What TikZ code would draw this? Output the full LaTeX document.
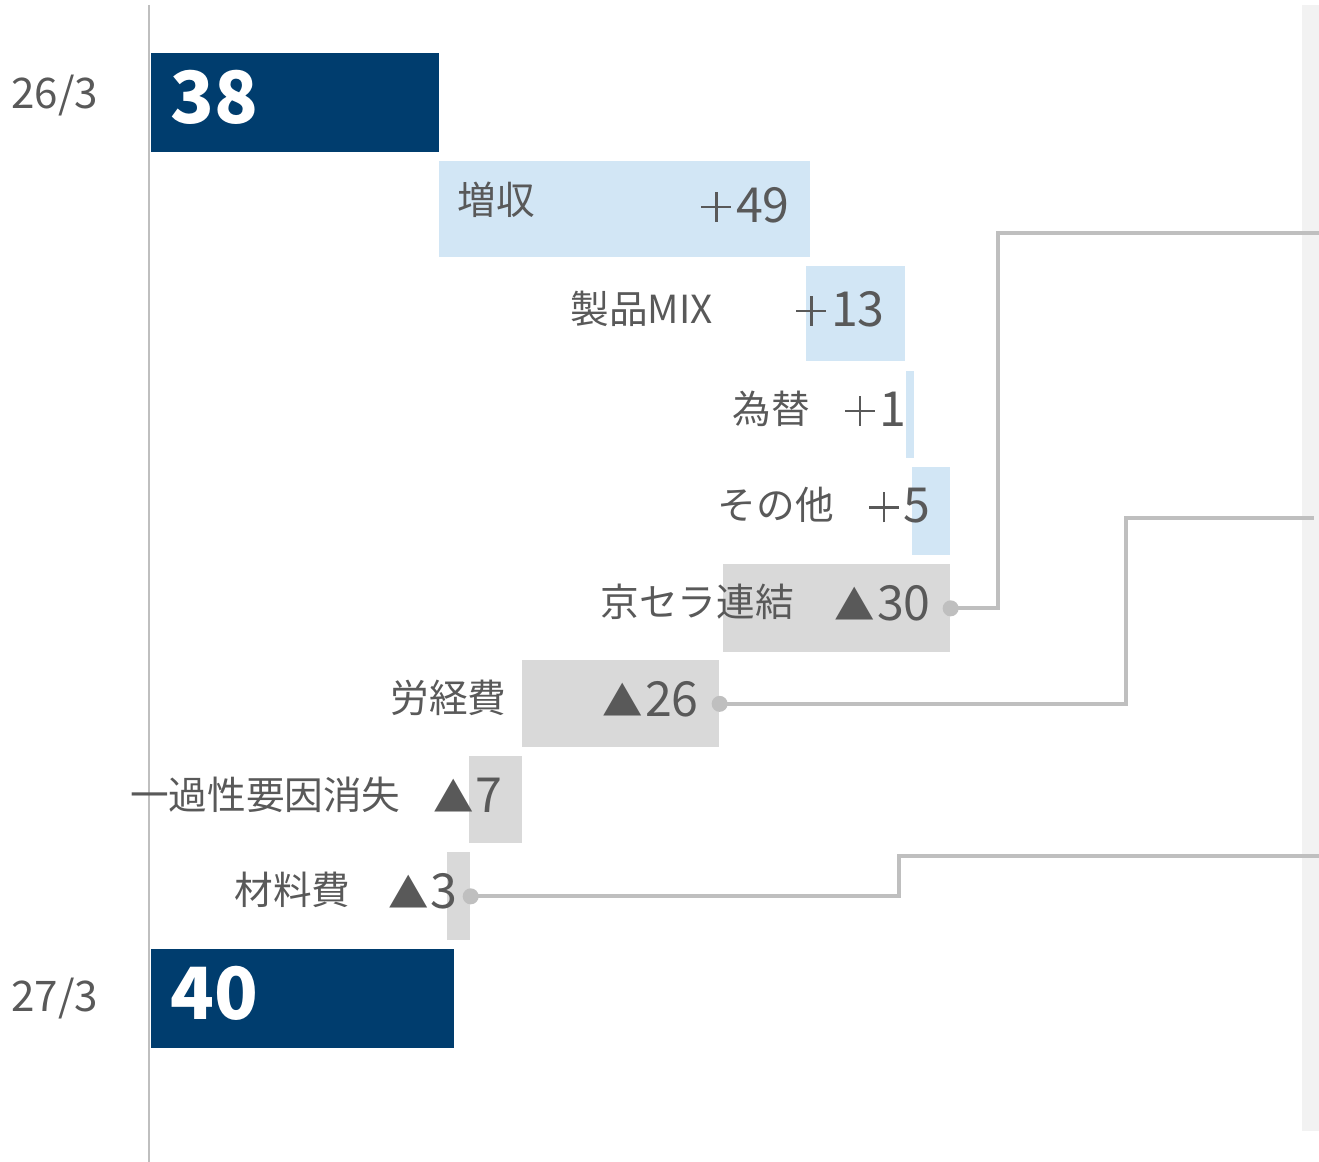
\documentclass[tikz,border=0pt]{standalone}
\usepackage{fontspec}
\setmainfont{Noto Sans CJK JP}
\usepackage{tikz}
\usetikzlibrary{calc}
\definecolor{navy}{HTML}{003D6E}
\definecolor{upblue}{HTML}{D2E6F5}
\definecolor{downgray}{HTML}{D9D9D9}
\definecolor{txtgray}{HTML}{595959}
\definecolor{linegray}{HTML}{BFBFBF}
\definecolor{stripgray}{HTML}{F2F2F2}
% thin, wide plus sign and smaller triangle as in the chart
\newcommand{\plussign}{\rlap{\rule[0.29em]{0.62em}{0.055em}}\kern0.2825em\rule[0.01em]{0.055em}{0.62em}\kern0.2825em\kern0.1em}
\newcommand{\minussign}{{\fontsize{23}{24}\selectfont ▲}\kern1pt}
\tikzset{
  totalbar/.style={fill=navy, draw=none, inner sep=0pt, anchor=north west},
  upbar/.style={fill=upblue, draw=none, inner sep=0pt, anchor=north west},
  downbar/.style={fill=downgray, draw=none, inner sep=0pt, anchor=north west},
  itemlabel/.style={text=txtgray, inner sep=0pt, anchor=east, font=\fontsize{22}{24}\selectfont},
  amount/.style={text=txtgray, inner sep=0pt, anchor=east, font=\fontsize{27.5}{30}\selectfont},
  totalnum/.style={text=white, inner sep=0pt, anchor=west, font=\fontsize{41}{44}\selectfont\bfseries},
  period/.style={text=txtgray, inner sep=0pt, anchor=west, font=\fontsize{24}{26}\selectfont},
  conn/.style={draw=linegray, line width=2.2pt},
  dot/.style={fill=linegray}
}

\begin{document}
\begin{tikzpicture}[x=0.02cm, y=-0.02cm]
  \useasboundingbox (0,0) rectangle (1319,1162);
  % right strip and axis
  \fill[stripgray] (1302,5) rectangle (1319,1131);
  \draw[linegray, line width=0.9pt] (149,5) -- (149,1162);

  % totals
  \node[totalbar, minimum width=5.76cm, minimum height=1.98cm] (start) at (151,53) {};
  \node[totalbar, minimum width=6.06cm, minimum height=1.98cm] (finish) at (151,949) {};
  \node[totalnum] (startval) at (170,97) {38};
  \node[totalnum] (finishval) at (170,993) {40};
  \node[period] (startlbl) at (11,96) {26/3};
  \node[period] (finishlbl) at (11,999) {27/3};

  % increases
  \node[upbar, minimum width=7.42cm, minimum height=1.92cm] (sales) at (439,161) {};
  \node[upbar, minimum width=1.98cm, minimum height=1.90cm] (mix) at (806,266) {};
  \node[upbar, minimum width=0.16cm, minimum height=1.74cm] (fx) at (906,371) {};
  \node[upbar, minimum width=0.76cm, minimum height=1.76cm] (other) at (912,467) {};

  % decreases
  \node[downbar, minimum width=4.54cm, minimum height=1.76cm] (kyocera) at (723,564) {};
  \node[downbar, minimum width=3.94cm, minimum height=1.74cm] (labour) at (522,660) {};
  \node[downbar, minimum width=1.06cm, minimum height=1.74cm] (oneoff) at (469,756) {};
  \node[downbar, minimum width=0.46cm, minimum height=1.76cm] (material) at (447,852) {};

  % labels
  \node[itemlabel, anchor=west] (saleslbl) at (457,200) {増収};
  \node[amount] (salesval) at (790,205) {\plussign 49};
  \node[itemlabel] (mixlbl) at (713,309) {製品MIX};
  \node[amount] (mixval) at (885,309) {\plussign 13};
  \node[itemlabel] (fxlbl) at (810,409) {為替};
  \node[amount] (fxval) at (907,409) {\plussign 1};
  \node[itemlabel] (otherlbl) at (834,505) {その他};
  \node[amount] (otherval) at (931,506) {\plussign 5};
  \node[itemlabel] (kyoceralbl) at (794,602) {京セラ連結};
  \node[amount] (kyoceraval) at (931,603) {\minussign 30};
  \node[itemlabel] (labourlbl) at (507,698) {労経費};
  \node[amount] (labourval) at (699,699) {\minussign 26};
  \node[itemlabel] (oneofflbl) at (401,795) {一過性要因消失};
  \node[amount] (oneoffval) at (503,795) {\minussign 7};
  \node[itemlabel] (materiallbl) at (351,890) {材料費};
  \node[amount] (materialval) at (458,891) {\minussign 3};

  % connectors
  \coordinate (c1) at (1319,233);
  \coordinate (c2) at (1314,518);
  \coordinate (c3) at (1319,856);
  \draw[conn] (kyocera.east) -- ++(47,0) |- (c1);
  \draw[conn] (labour.east) -- ++(406,0) |- (c2);
  \draw[conn] (material.east) -- ++(428,0) |- (c3);
  \foreach \b in {kyocera, labour, material}
    \fill[dot] (\b.east) circle (0.16cm);
\end{tikzpicture}
\end{document}
